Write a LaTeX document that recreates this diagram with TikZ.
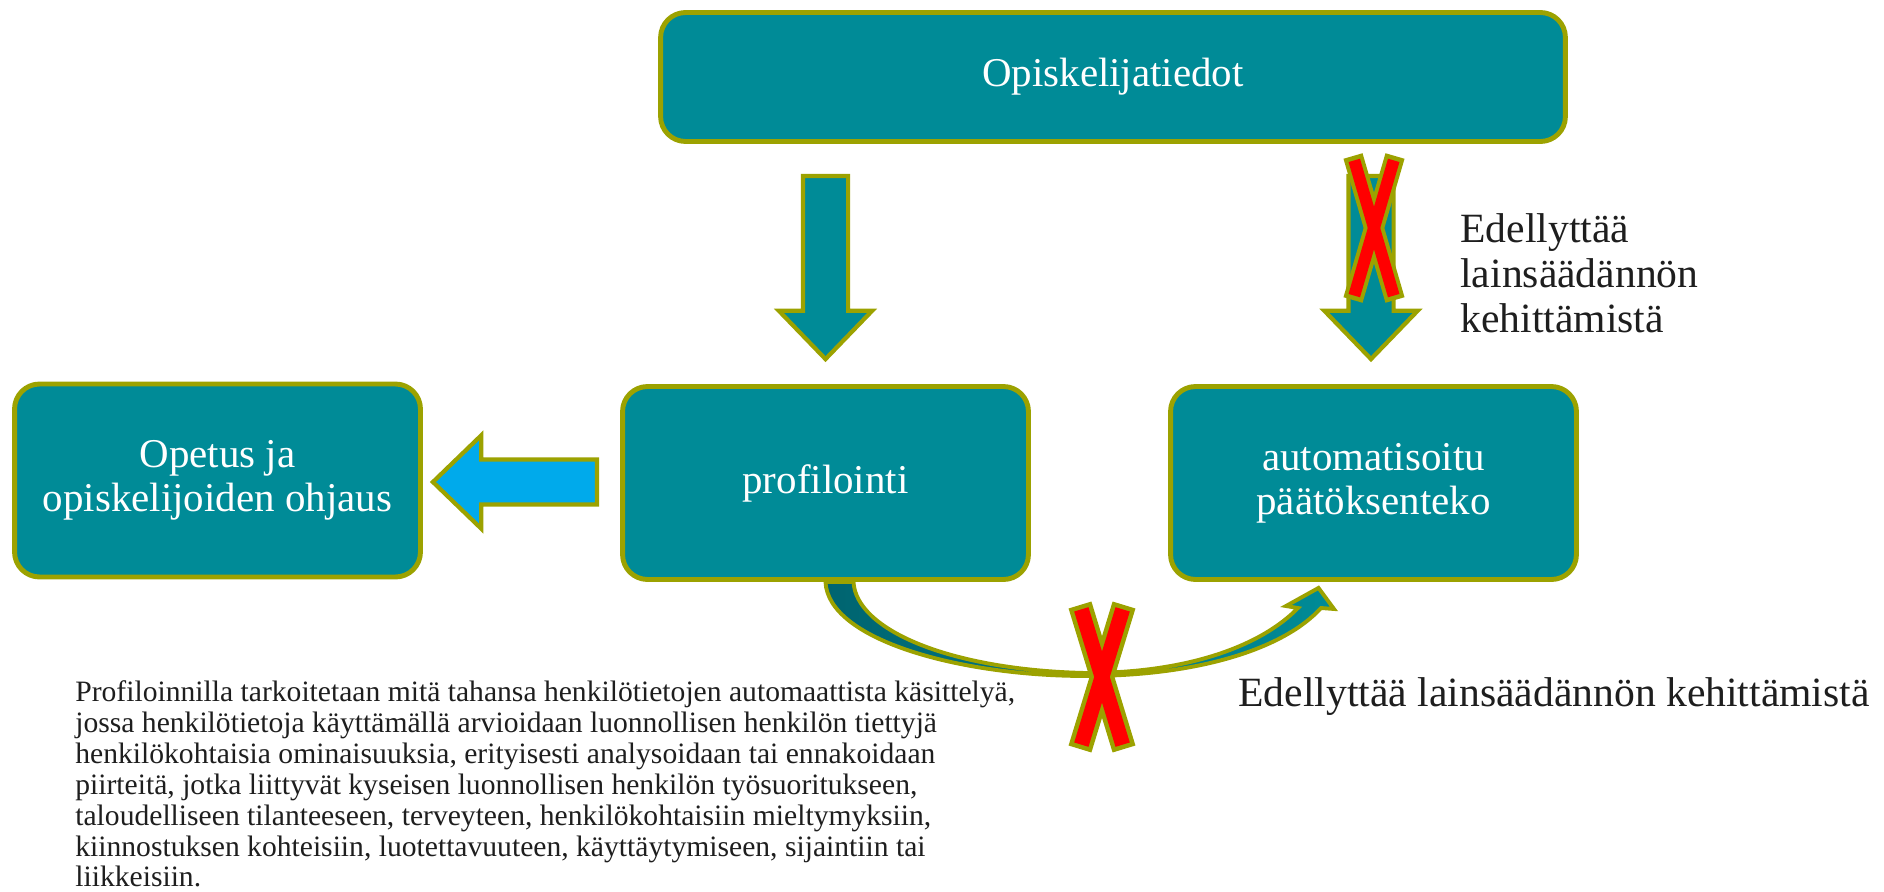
\documentclass[tikz,border=0pt]{standalone}
\usepackage{fontspec}
\setmainfont{Liberation Serif}
\usetikzlibrary{shapes.arrows}
\usetikzlibrary{calc}
\definecolor{tealfill}{RGB}{0,139,151}
\definecolor{tealdeep}{RGB}{0,100,112}
\definecolor{olivedraw}{RGB}{156,162,0}
\definecolor{skyfill}{RGB}{0,170,235}
\definecolor{crossred}{RGB}{255,0,0}
\definecolor{inkgray}{RGB}{30,30,30}
\tikzset{
    box/.style={
        rectangle,
        rounded corners=0.5cm,
        draw=olivedraw,
        line width=2.8pt,
        fill=tealfill,
        text=white,
        align=center,
        font=\fontsize{23.3}{25}\selectfont,
        minimum width=8.12cm,
        minimum height=3.86cm
    },
    blockarrow/.style={
        single arrow,
        draw=olivedraw,
        line width=2.4pt,
        fill=tealfill,
        inner sep=0pt,
        text height=0.41cm,
        text depth=0.41cm,
        single arrow head extend=0.48cm,
        single arrow tip angle=88,
        anchor=tail
    },
    curvearrow/.style={
        draw=olivedraw,
        line width=2.2pt,
        left color=tealdeep,
        right color=tealfill
    },
    crossedge/.style={draw=olivedraw, line width=#1},
    crosscore/.style={draw=crossred, line width=#1, shorten <=2.6pt, shorten >=2.6pt},
    note/.style={
        text=inkgray,
        align=left,
        inner sep=0pt,
        font=\fontsize{23.7}{25.5}\selectfont
    },
    para/.style={
        text=inkgray,
        align=left,
        inner sep=0pt,
        font=\fontsize{16.85}{17.6}\selectfont
    }
}

\begin{document}
\begin{tikzpicture}[x=0.02cm,y=-0.02cm]
    \useasboundingbox (0,0) rectangle (1884,892);

    \node[box,minimum width=18.1cm,minimum height=2.58cm] (data) at (1113,77) {Opiskelijatiedot};
    \node[box] (guidance) at (217.5,480.5) {Opetus ja\\opiskelijoiden ohjaus};
    \node[box] (prof) at (825.5,483) {profilointi};
    \node[box] (auto) at (1373.5,483) {automatisoitu\\päätöksenteko};

    % block arrows
    \node[blockarrow,rotate=-90,minimum height=3.66cm] (downprof) at (825.5,174) {};
    \node[blockarrow,rotate=-90,minimum height=3.66cm] (downauto) at (1371,174) {};
    \node[blockarrow,rotate=180,fill=skyfill,minimum height=3.28cm] (toguide) at (599,482) {};

    % curved arrow prof -> auto
    \path[curvearrow] (prof.south)
        .. controls (828,640) and (960,676) .. (1086,676)
        .. controls (1200,676) and (1285,648) .. (1321,608)
        -- (1334,609) -- ($(auto.south)+(-55,6)$) -- (1286,606) -- (1298,608)
        .. controls (1262,645) and (1190,673) .. (1086,673)
        .. controls (950,670) and (856,630) .. ($(prof.south)+(28,0)$)
        -- cycle;

    % crosses
    \draw[crossedge=11.3pt] (1353,156) -- (1395,300);
    \draw[crossedge=11.3pt] (1395,156) -- (1353,300);
    \draw[crosscore=6.8pt] (1353,156) -- (1395,300);
    \draw[crosscore=6.8pt] (1395,156) -- (1353,300);

    \draw[crossedge=13.6pt] (1080,605) -- (1124,749);
    \draw[crossedge=13.6pt] (1124,605) -- (1080,749);
    \draw[crosscore=8.5pt] (1080,605) -- (1124,749);
    \draw[crosscore=8.5pt] (1124,605) -- (1080,749);

    \node[note,anchor=west] (reqtop) at (1460,273) {Edellyttää\\lainsäädännön\\kehittämistä};
    \node[note,anchor=west] (reqbottom) at (1238,697) {Edellyttää lainsäädännön kehittämistä};

    \node[para,anchor=west] (definition) at (75,784) {Profiloinnilla tarkoitetaan mitä tahansa henkilötietojen automaattista käsittelyä,\\
    jossa henkilötietoja käyttämällä arvioidaan luonnollisen henkilön tiettyjä\\
    henkilökohtaisia ominaisuuksia, erityisesti analysoidaan tai ennakoidaan\\
    piirteitä, jotka liittyvät kyseisen luonnollisen henkilön työsuoritukseen,\\
    taloudelliseen tilanteeseen, terveyteen, henkilökohtaisiin mieltymyksiin,\\
    kiinnostuksen kohteisiin, luotettavuuteen, käyttäytymiseen, sijaintiin tai\\
    liikkeisiin.};
\end{tikzpicture}
\end{document}
